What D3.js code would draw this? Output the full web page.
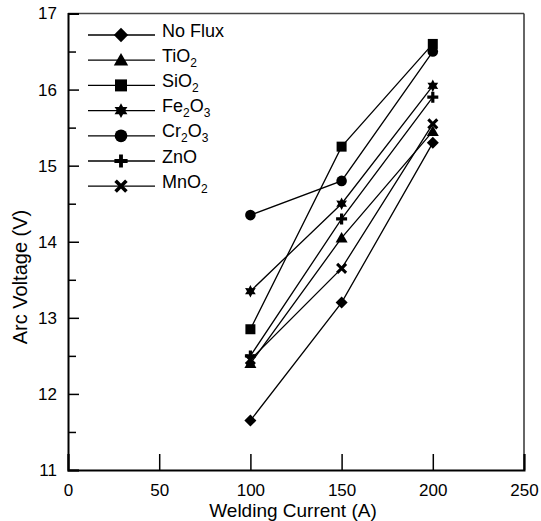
<!DOCTYPE html>
<html>
<head>
<meta charset="utf-8">
<script src="https://cdn.jsdelivr.net/npm/d3@7"></script>
<style>
  body { margin: 0; background: #fff; }
  text { font-family: "Liberation Sans", Arial, sans-serif; fill: #000; }
</style>
</head>
<body>
<div id="chart"></div>
<script>
// welding current values (A)
var currents = [100, 150, 200];

// arc voltage (V) per flux
var noFlux = [11.65, 13.2, 15.3];
var tio2   = [12.4, 14.05, 15.45];
var sio2   = [12.85, 15.25, 16.6];
var fe2o3  = [13.35, 14.5, 16.05];
var cr2o3  = [14.35, 14.8, 16.5];
var zno    = [12.5, 14.3, 15.9];
var mno2   = [12.45, 13.65, 15.55];

var xTicks = [0, 50, 100, 150, 200, 250];
var yTicks = [11, 12, 13, 14, 15, 16, 17];
var yMinor = [11.5, 12.5, 13.5, 14.5, 15.5, 16.5];

// name parts: [text, isSubscript]
var series = [
  {label: [["No Flux", 0]], values: noFlux, shape: "diamond"},
  {label: [["TiO", 0], ["2", 1]], values: tio2, shape: "triangle"},
  {label: [["SiO", 0], ["2", 1]], values: sio2, shape: "square"},
  {label: [["Fe", 0], ["2", 1], ["O", 0], ["3", 1]], values: fe2o3, shape: "star"},
  {label: [["Cr", 0], ["2", 1], ["O", 0], ["3", 1]], values: cr2o3, shape: "circle"},
  {label: [["ZnO", 0]], values: zno, shape: "plus"},
  {label: [["MnO", 0], ["2", 1]], values: mno2, shape: "cross"}
];

var W = 541, H = 521;
var margin = {top: 13.5, right: 17, bottom: 51, left: 68};
var width = W - margin.left - margin.right,
    height = H - margin.top - margin.bottom;

var svg = d3.select("#chart").append("svg")
  .attr("width", W)
  .attr("height", H);

var g = svg.append("g")
  .attr("transform", "translate(" + margin.left + "," + margin.top + ")");

var x = d3.scaleLinear().domain([0, 250]).range([0, width]);
var y = d3.scaleLinear().domain([11, 17]).range([height, 0]);

// marker paths centred on 0,0
function markerPath(shape) {
  var p = d3.path();
  if (shape === "diamond") {
    p.moveTo(0, -6); p.lineTo(6, 0); p.lineTo(0, 6); p.lineTo(-6, 0); p.closePath();
  } else if (shape === "triangle") {
    p.moveTo(0, -6); p.lineTo(6, 4.5); p.lineTo(-6, 4.5); p.closePath();
  } else if (shape === "square") {
    p.rect(-5, -5, 10, 10);
  } else if (shape === "circle") {
    p.arc(0, 0, 5.3, 0, 2 * Math.PI);
  } else if (shape === "star") {
    var r1 = 6.2, r2 = 3.4;
    for (var i = 0; i < 12; i++) {
      var r = i % 2 ? r2 : r1, a = -Math.PI / 2 + i * Math.PI / 6;
      if (i === 0) p.moveTo(r * Math.cos(a), r * Math.sin(a));
      else p.lineTo(r * Math.cos(a), r * Math.sin(a));
    }
    p.closePath();
  } else if (shape === "plus") {
    var a1 = 5.5, b = 1.6;
    p.moveTo(-b, -a1); p.lineTo(b, -a1); p.lineTo(b, -b); p.lineTo(a1, -b);
    p.lineTo(a1, b); p.lineTo(b, b); p.lineTo(b, a1); p.lineTo(-b, a1);
    p.lineTo(-b, b); p.lineTo(-a1, b); p.lineTo(-a1, -b); p.lineTo(-b, -b);
    p.closePath();
  }
  return p.toString();
}

function drawMarker(sel, shape, cx, cy, k) {
  k = k || 1;
  var tr = "translate(" + cx + "," + cy + ") scale(" + k + ")";
  if (shape === "cross") {
    sel.append("path")
      .attr("d", "M-4.5,-4.5L4.5,4.5M-4.5,4.5L4.5,-4.5")
      .attr("transform", tr)
      .attr("stroke", "#000").attr("stroke-width", 3).attr("fill", "none");
  } else {
    sel.append("path")
      .attr("d", markerPath(shape))
      .attr("transform", tr)
      .attr("fill", "#000");
  }
}

// frame top/right
g.append("line").attr("x1", 0).attr("x2", width).attr("y1", 0).attr("y2", 0)
  .attr("stroke", "#444").attr("stroke-width", 1.5);
g.append("line").attr("x1", width).attr("x2", width).attr("y1", 0).attr("y2", height)
  .attr("stroke", "#333").attr("stroke-width", 1.5);

// x axis, ticks pointing in
var xAxis = g.append("g")
  .attr("transform", "translate(0," + height + ")")
  .call(d3.axisBottom(x).tickValues(xTicks).tickSize(-16).tickPadding(14));

// y axis
var yAxis = g.append("g")
  .call(d3.axisLeft(y).tickValues(yTicks).tickFormat(d3.format("d"))
    .tickSize(-11).tickPadding(11));
g.append("g")
  .call(d3.axisLeft(y).tickValues(yMinor).tickSize(-8).tickFormat(""))
  .select(".domain").remove();

[xAxis, yAxis].forEach(function(ax) {
  ax.select(".domain").attr("stroke", "#000").attr("stroke-width", 2);
  ax.selectAll(".tick text").style("font-size", "17px");
});
g.selectAll(".tick line").attr("stroke", "#000").attr("stroke-width", 1.5);

// axis titles
svg.append("text")
  .attr("x", 293)
  .attr("y", 517)
  .attr("text-anchor", "middle")
  .style("font-size", "19px")
  .text("Welding Current (A)");

svg.append("text")
  .attr("transform", "translate(27,277) rotate(-90)")
  .attr("text-anchor", "middle")
  .style("font-size", "20px")
  .text("Arc Voltage (V)");

// series lines and markers
var line = d3.line()
  .x(function(d, i) { return x(currents[i]); })
  .y(function(d) { return y(d); });

series.forEach(function(s) {
  g.append("path")
    .attr("d", line(s.values))
    .attr("fill", "none")
    .attr("stroke", "#000")
    .attr("stroke-width", 1.3);
});
series.forEach(function(s) {
  s.values.forEach(function(v, i) {
    drawMarker(g, s.shape, x(currents[i]), y(v));
  });
});

// legend
var legend = g.append("g").attr("transform", "translate(20,21.5)");
series.forEach(function(s, i) {
  var row = legend.append("g").attr("transform", "translate(0," + (i * 25.2) + ")");
  row.append("line").attr("x1", 0).attr("x2", 67).attr("y1", 0).attr("y2", 0)
    .attr("stroke", "#000").attr("stroke-width", 1.3);
  drawMarker(row, s.shape, 33, 0, 1.2);
  var t = row.append("text").attr("x", 74).attr("y", 6.5).style("font-size", "18px");
  s.label.forEach(function(part) {
    if (part[1]) {
      t.append("tspan").attr("dy", 5).style("font-size", "12px").text(part[0]);
    } else {
      t.append("tspan").attr("dy", t.selectAll("tspan").size() ? -5 : 0).text(part[0]);
    }
  });
});
</script>
</body>
</html>
